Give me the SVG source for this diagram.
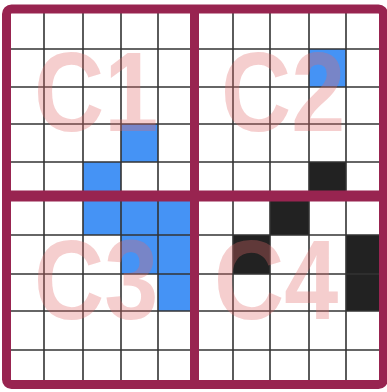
<svg xmlns="http://www.w3.org/2000/svg" width="387" height="392" viewBox="0 0 387 392">
<style>
.blue{fill:#4593f5}
.black{fill:#222222}
.grid line{stroke:#333333;stroke-width:1.6}
.lbl{font-family:"Liberation Sans",Arial,sans-serif;font-weight:bold;font-size:113px;fill:#e06a6a;fill-opacity:0.33}
.frame{fill:none;stroke:#982450;stroke-width:9}
</style>
<rect width="387" height="392" fill="#ffffff"/>
<g id="cells">
<rect class="blue" x="121" y="124" width="37" height="38"/>
<rect class="blue" x="83" y="162" width="38" height="34"/>
<rect class="blue" x="309" y="49" width="37" height="38"/>
<rect class="black" x="309" y="162" width="37" height="34"/>
<rect class="blue" x="83" y="196" width="111" height="39"/>
<rect class="blue" x="121" y="235" width="73" height="39"/>
<rect class="blue" x="158" y="274" width="36" height="37"/>
<rect class="black" x="270" y="196" width="39" height="39"/>
<rect class="black" x="233" y="235" width="37" height="39"/>
<rect class="black" x="346" y="235" width="37" height="76"/>
</g>
<g class="grid" id="grid">
<line x1="44" y1="10" x2="44" y2="382"/>
<line x1="83" y1="10" x2="83" y2="382"/>
<line x1="121" y1="10" x2="121" y2="382"/>
<line x1="158" y1="10" x2="158" y2="382"/>
<line x1="233" y1="10" x2="233" y2="382"/>
<line x1="270" y1="10" x2="270" y2="382"/>
<line x1="309" y1="10" x2="309" y2="382"/>
<line x1="346" y1="10" x2="346" y2="382"/>
<line x1="8" y1="49" x2="382" y2="49"/>
<line x1="8" y1="87" x2="382" y2="87"/>
<line x1="8" y1="124" x2="382" y2="124"/>
<line x1="8" y1="162" x2="382" y2="162"/>
<line x1="8" y1="235" x2="382" y2="235"/>
<line x1="8" y1="274" x2="382" y2="274"/>
<line x1="8" y1="311" x2="382" y2="311"/>
<line x1="8" y1="350" x2="382" y2="350"/>
</g>
<g id="labels">
<text class="lbl" transform="translate(34,131) scale(0.86,1)">C1</text>
<text class="lbl" transform="translate(221,131) scale(0.86,1)">C2</text>
<text class="lbl" transform="translate(34,319) scale(0.86,1)">C3</text>
<text class="lbl" transform="translate(214,319) scale(0.86,1)">C4</text>
</g>
<g id="frame">
<rect class="frame" x="6.5" y="9" width="377" height="375.5" rx="5"/>
<line class="frame" x1="194.5" y1="9" x2="194.5" y2="384.5"/>
<line class="frame" x1="6.5" y1="196" x2="383.5" y2="196" style="stroke-width:11"/>
</g>
</svg>
